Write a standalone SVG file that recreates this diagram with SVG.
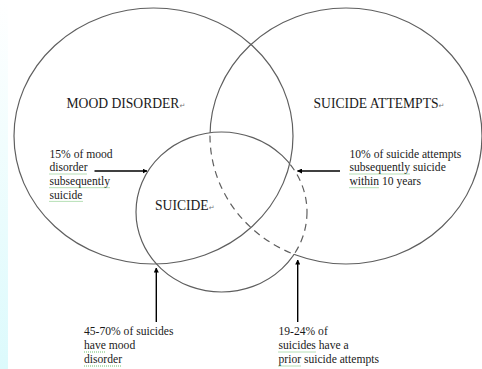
<svg xmlns="http://www.w3.org/2000/svg" width="482" height="369" viewBox="0 0 482 369">
<style>
.ell{fill:none;stroke:#5f5f5f;stroke-width:1.2}
.dash{stroke-dasharray:7 5}
.big{font-family:"Liberation Serif","Times New Roman",serif;font-size:13.6px;fill:#1a1a1a}
.sm{font-family:"Liberation Serif","Times New Roman",serif;font-size:11.6px;fill:#1a1a1a}
.ret{font-family:"DejaVu Sans",sans-serif;font-size:7px;fill:#777}
.arr{stroke:#000;stroke-width:1.4;fill:none;marker-end:url(#ah)}
.sq{fill:none;stroke:#5cb85c;stroke-width:0.9;stroke-dasharray:1 1}
</style>
<defs>
<marker id="ah" viewBox="0 0 10 10" refX="9" refY="5" markerWidth="5" markerHeight="5" orient="auto" markerUnits="userSpaceOnUse">
<path d="M0 0 L10 5 L0 10 Z" fill="#000"/>
</marker>
<linearGradient id="bg" x1="0" y1="0" x2="0" y2="1">
<stop offset="0" stop-color="#ffffff"/>
<stop offset="1" stop-color="#dcfafc"/>
</linearGradient>
<clipPath id="inE1"><ellipse cx="153.5" cy="136" rx="139.5" ry="128"/></clipPath>
<clipPath id="inE2"><ellipse cx="346" cy="136" rx="136" ry="128"/></clipPath>
<clipPath id="inE3"><ellipse cx="221.5" cy="212" rx="85.5" ry="80"/></clipPath>
<clipPath id="outE1"><path clip-rule="evenodd" d="M-10 -10 H492 V379 H-10 Z M14 136 a139.5 128 0 1 0 279 0 a139.5 128 0 1 0 -279 0 Z"/></clipPath>
<clipPath id="outE2"><path clip-rule="evenodd" d="M-10 -10 H492 V379 H-10 Z M210 136 a136 128 0 1 0 272 0 a136 128 0 1 0 -272 0 Z"/></clipPath>
<clipPath id="outE3"><path clip-rule="evenodd" d="M-10 -10 H492 V379 H-10 Z M136 212 a85.5 80 0 1 0 171 0 a85.5 80 0 1 0 -171 0 Z"/></clipPath>
</defs>
<rect width="482" height="369" fill="#fff"/>
<rect x="0" y="0" width="8" height="369" fill="url(#bg)"/>

<g id="mood-disorder">
<ellipse class="ell" cx="153.5" cy="136" rx="139.5" ry="128"/>
<text class="big" x="66.5" y="108">MOOD DISORDER<tspan class="ret">↵</tspan></text>
</g>

<g id="suicide-attempts">
<g clip-path="url(#outE3)"><ellipse class="ell" cx="346" cy="136" rx="136" ry="128"/></g>
<g clip-path="url(#inE3)"><ellipse class="ell dash" cx="346" cy="136" rx="136" ry="128"/></g>
<text class="big" x="313.5" y="108">SUICIDE ATTEMPTS<tspan class="ret">↵</tspan></text>
</g>

<g id="suicide">
<g clip-path="url(#inE1)"><ellipse class="ell" cx="221.5" cy="212" rx="85.5" ry="80"/></g>
<g clip-path="url(#outE2)"><g clip-path="url(#outE1)"><ellipse class="ell" cx="221.5" cy="212" rx="85.5" ry="80"/></g></g>
<g clip-path="url(#inE2)"><g clip-path="url(#outE1)"><ellipse class="ell dash" cx="221.5" cy="212" rx="85.5" ry="80"/></g></g>
<text class="big" x="155" y="210">SUICIDE<tspan class="ret">↵</tspan></text>
</g>

<g id="note-mood">
<text class="sm" x="49.5" y="157.5">15% of mood</text>
<text class="sm" x="49.5" y="171.3">disorder</text>
<text class="sm" x="49.5" y="185">subsequently</text>
<text class="sm" x="49.5" y="198.7">suicide</text>
<path class="sq" d="M49.5 174 h37 M49.5 187.7 h60.5 M49.5 201.4 h33"/>
</g>

<g id="note-attempts">
<text class="sm" x="349.5" y="157.5">10% of suicide attempts</text>
<text class="sm" x="349.5" y="171.3">subsequently suicide</text>
<text class="sm" x="349.5" y="185">within 10 years</text>
<path class="sq" d="M349.5 174 h60.5 M349.5 187.7 h29.5"/>
</g>

<g id="note-suicide-mood">
<text class="sm" x="84" y="335">45-70% of suicides</text>
<text class="sm" x="84" y="349.3">have mood</text>
<text class="sm" x="84" y="363.3">disorder</text>
<path class="sq" d="M84 352 h22 M84 366 h37"/>
</g>

<g id="note-suicide-attempts">
<text class="sm" x="278.5" y="335">19-24% of</text>
<text class="sm" x="278.5" y="349.3">suicides have a</text>
<text class="sm" x="278.5" y="363.3">prior suicide attempts</text>
<path class="sq" d="M278.5 352 h37.5 M278.5 366 h22.5"/>
</g>

<g id="connectors">
<path class="arr" d="M94.5 171 H147"/>
<path class="arr" d="M340 171 H297.5"/>
<path class="arr" d="M156.3 322 V268"/>
<path class="arr" d="M297.7 322 V260"/>
</g>
</svg>
